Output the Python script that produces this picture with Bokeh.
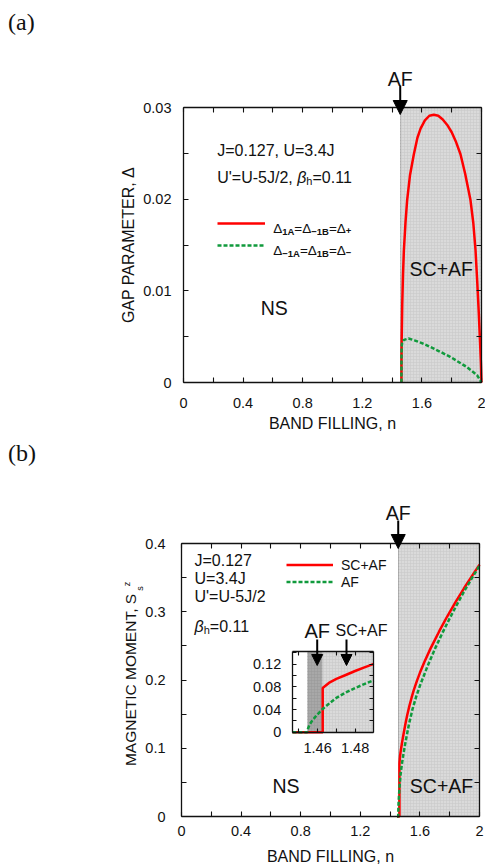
import math
from bokeh.plotting import figure
from bokeh.models import (Range1d, LinearAxis, FixedTicker, Label, Arrow, NormalHead,
                          Legend, LegendItem)
from bokeh.embed import file_html
from bokeh.resources import INLINE

# ---------------- data ----------------
n_af = 1.4545      # onset of the AF state
n_sc = 1.4627      # onset of SC+AF
n_max = 2.0

# panel (a): gap parameters
n_gap_plus = [1.4627, 1.4632, 1.4645, 1.468, 1.473, 1.479, 1.49, 1.501, 1.52, 1.546,
              1.57, 1.591, 1.62, 1.65, 1.68, 1.71, 1.74, 1.77, 1.80, 1.83,
              1.859, 1.89, 1.926, 1.945, 1.96, 1.972, 1.982, 1.99, 1.996, 2.0]
gap_plus = [0.0, 0.0025, 0.0048, 0.0085, 0.0117, 0.0144, 0.0175, 0.0199, 0.0226, 0.0249,
            0.0267, 0.0277, 0.0286, 0.0291, 0.0292, 0.0291, 0.0287, 0.0281, 0.0273, 0.0262,
            0.0249, 0.0228, 0.0199, 0.0174, 0.0144, 0.0108, 0.0075, 0.0045, 0.0022, 0.0]
n_gap_minus = [1.4627, 1.4630, 1.4640, 1.468, 1.475, 1.49, 1.51, 1.55, 1.6, 1.68,
               1.79, 1.9, 1.97, 2.0]
gap_minus = [0.0, 0.0025, 0.0039, 0.0044, 0.0046, 0.0047, 0.0048, 0.0046, 0.0043, 0.0037,
             0.0028, 0.0017, 0.0008, 0.0]

# panel (b): magnetic moment
n_mom_sc = [1.4465, 1.4627, 1.4627, 1.466, 1.47, 1.475, 1.48, 1.485, 1.49, 1.503, 1.515,
            1.53, 1.545, 1.559, 1.58, 1.6, 1.63, 1.671, 1.73, 1.783, 1.84, 1.895, 1.95, 2.0]
mom_sc = [0.0, 0.0, 0.078, 0.087, 0.094, 0.101, 0.108, 0.1145, 0.1205, 0.136, 0.1487,
          0.1625, 0.1748, 0.1852, 0.1988, 0.2105, 0.2265, 0.2460, 0.2715, 0.2930, 0.3145,
          0.3340, 0.3525, 0.369]
n_mom_af = [1.4465, 1.4545, 1.4549, 1.4558, 1.4572, 1.4595, 1.4627, 1.467, 1.47, 1.475,
            1.48, 1.49, 1.505, 1.526, 1.55, 1.575, 1.6, 1.65, 1.705, 1.75, 1.805, 1.85,
            1.9, 1.95, 2.0]
mom_af = [0.0, 0.0, 0.007, 0.014, 0.021, 0.030, 0.041, 0.053, 0.0605, 0.070,
          0.078, 0.092, 0.111, 0.1345, 0.157, 0.1755, 0.1915, 0.2195, 0.2475, 0.2685,
          0.2925, 0.311, 0.331, 0.3495, 0.3675]

# axis ranges and ticks
xr_main = (0.0, 2.0)
yr_gap = (0.0, 0.03)
yr_mom = (0.0, 0.4)
xr_ins = (1.4464, 1.49)
yr_ins = (0.0, 0.143)
x_ticks = [0, 0.4, 0.8, 1.2, 1.6, 2.0]
x_minor = [0.2, 0.6, 1.0, 1.4, 1.8]
x_labels = ["0", "0.4", "0.8", "1.2", "1.6", "2"]
gap_ticks = [0, 0.01, 0.02, 0.03]
gap_minor = [0.005, 0.015, 0.025]
gap_labels = ["0", "0.01", "0.02", "0.03"]
mom_ticks = [0, 0.1, 0.2, 0.3, 0.4]
mom_minor = [0.05, 0.15, 0.25, 0.35]
mom_labels = ["0", "0.1", "0.2", "0.3", "0.4"]
ins_x_ticks = [1.46, 1.48]
ins_x_minor = [1.45, 1.47]
ins_x_labels = ["1.46", "1.48"]
ins_y_ticks = [0, 0.04, 0.08, 0.12]
ins_y_minor = [0.02, 0.06, 0.10, 0.14]
ins_y_labels = ["0", "0.04", "0.08", "0.12"]

# ---------------- style / layout ----------------
W, H = 485, 865
FONT = "Liberation Sans"
SERIF = "Liberation Serif"
RED = "#ff0000"
GREEN = "#109a3c"
INK = "#111111"
LIGHT = "#dadada"
DARK = "#a8a8a8"

# page-pixel placement of each data box: (left, right, bottom, top)
BOX_A = (183, 481, 382, 107)
BOX_B = (181, 479, 816, 543)
BOX_I = (291.7, 373.3, 731.7, 650.7)

# Arial-metric advance widths (per 1000 em)
W_N = {' ': 278, "'": 191, '+': 584, ',': 278, '-': 333, '.': 278, '/': 278, '=': 584,
       'A': 667, 'B': 667, 'C': 722, 'F': 611, 'J': 500, 'S': 667, 'U': 722, 'h': 556,
       's': 500, 'z': 500, '\u0394': 668, '\u03b2': 575, '\u2212': 584}
W_B = {'A': 722, 'B': 722, '+': 584, '\u2212': 584}


def tw(s, size, style):
    tab = W_B if style == "bold" else W_N
    return sum(tab.get(c, W_N.get(c, 556)) for c in s) * size / 1000.0


def mapper(box, xr, yr):
    pl, pr, pb, pt = box
    fx = lambda px: xr[0] + (px - pl) * (xr[1] - xr[0]) / (pr - pl)
    fy = lambda py: yr[0] + (py - pb) * (yr[1] - yr[0]) / (pt - pb)
    return fx, fy


XA, YA = mapper(BOX_A, xr_main, yr_gap)
XB, YB = mapper(BOX_B, xr_main, yr_mom)
XI, YI = mapper(BOX_I, xr_ins, yr_ins)

p = figure(width=W, height=H,
           x_range=Range1d(XA(0), XA(W)), y_range=Range1d(YA(H), YA(0)),
           x_axis_type=None, y_axis_type=None, output_backend="svg",
           toolbar_location=None, min_border=0,
           background_fill_color="white", border_fill_color="white")
p.min_border_left = p.min_border_right = p.min_border_top = p.min_border_bottom = 0
p.outline_line_color = None
p.extra_x_ranges = {"b": Range1d(XB(0), XB(W)), "i": Range1d(XI(0), XI(W))}
p.extra_y_ranges = {"b": Range1d(YB(H), YB(0)), "i": Range1d(YI(H), YI(0))}


def box_axes(rn, xr, yr, xt, xm, xl, yt, ym, yl, xstand, ystand, tick=5, lab="14.5px"):
    xtk = FixedTicker(ticks=xt, minor_ticks=xm)
    ytk = FixedTicker(ticks=yt, minor_ticks=ym)

    def mk(ticker, loc, bounds, ticks, labels=None, stand=0):
        ax = LinearAxis(ticker=ticker, fixed_location=loc, bounds=bounds,
                        x_range_name=rn, y_range_name=rn,
                        major_tick_in=tick, major_tick_out=0, minor_tick_in=tick,
                        minor_tick_out=0, axis_line_color=INK, axis_line_width=1.3,
                        major_tick_line_color=INK, minor_tick_line_color=INK,
                        major_tick_line_width=1.1, minor_tick_line_width=1.1)
        if labels is None:
            ax.major_label_text_font_size = "0px"
            ax.major_label_standoff = 0
            ax.major_label_overrides = {t: "" for t in ticks}
        else:
            ax.major_label_overrides = {t: s for t, s in zip(ticks, labels)}
            ax.major_label_standoff = stand
            ax.major_label_text_font = FONT
            ax.major_label_text_font_size = lab
            ax.major_label_text_color = INK
        ax.axis_label_text_font = FONT
        ax.axis_label_text_font_size = "16px"
        ax.axis_label_text_font_style = "normal"
        ax.axis_label_text_color = INK
        return ax

    bottom = mk(xtk, yr[0], xr, xt, xl, xstand)
    top = mk(xtk, yr[1], xr, xt)
    left = mk(ytk, xr[0], yr, yt, yl, ystand)
    right = mk(ytk, xr[1], yr, yt)
    p.add_layout(bottom, "below")
    p.add_layout(top, "above")
    p.add_layout(left, "left")
    p.add_layout(right, "right")
    return bottom, left


def label(rn, x, y, text, size, align="center", base="middle", style="normal",
          font=FONT, angle=0.0, xo=0, yo=0):
    p.add_layout(Label(x=x, y=y, x_range_name=rn, y_range_name=rn, x_offset=xo, y_offset=yo,
                       text=text, text_font=font, text_font_size=f"{size}px",
                       text_font_style=style, text_align=align, text_baseline=base,
                       text_color=INK, angle=angle))


def rich(rn, x, y, segs):
    off = 0.0
    for text, size, style, dy in segs:
        label(rn, x, y, text, size, align="left", base="alphabetic", style=style, xo=off, yo=dy)
        off += tw(text, size, style)


def shade(rn, right, top):
    p.quad(left=[n_af], right=[n_sc], bottom=[0], top=[top], fill_color=DARK,
           hatch_pattern="+", hatch_color="#989898", hatch_scale=3, hatch_weight=0.5,
           line_color=None, level="underlay", x_range_name=rn, y_range_name=rn)
    p.quad(left=[n_sc], right=[right], bottom=[0], top=[top], fill_color=LIGHT,
           hatch_pattern="+", hatch_color="#c6c6c6", hatch_scale=3, hatch_weight=0.5,
           line_color=None, level="underlay", x_range_name=rn, y_range_name=rn)


def arrow(rn, x, y0, y1, size, width=2):
    p.add_layout(Arrow(end=NormalHead(size=size, fill_color="black", line_color="black",
                                      line_width=1),
                       x_start=x, y_start=y0, x_end=x, y_end=y1,
                       x_range_name=rn, y_range_name=rn,
                       line_color="black", line_width=width))


def within(xs, ys, lo, hi):
    pts = [(x, y) for x, y in zip(xs, ys) if lo <= x <= hi]
    return [a for a, _ in pts], [b for _, b in pts]


# ====================== panel (a) ======================
RA = "default"
bx, ly = box_axes(RA, xr_main, yr_gap, x_ticks, x_minor, x_labels,
                  gap_ticks, gap_minor, gap_labels, 15, 12)
bx.axis_label = "BAND FILLING, n"
bx.axis_label_standoff = 4
ly.axis_label = "GAP PARAMETER, \u0394"
ly.axis_label_standoff = 3

shade(RA, n_max, yr_gap[1])
ra1 = p.line(n_gap_plus, gap_plus, line_color=RED, line_width=2.5)
ra2 = p.line(n_gap_minus, gap_minus, line_color=GREEN, line_width=2.5, line_dash="4 2")

p.add_layout(Legend(items=[LegendItem(label=" ", renderers=[ra1]),
                           LegendItem(label=" ", renderers=[ra2])],
                    location=(217, 610), padding=0, margin=0, spacing=2, glyph_width=48,
                    glyph_height=20, label_height=20, label_standoff=0,
                    border_line_color=None, background_fill_alpha=0,
                    label_text_font_size="13px"))

label(RA, XA(7.5), YA(21), "(a)", 24, align="left", font=SERIF)
label(RA, n_af, YA(78), "AF", 19.5)
arrow(RA, n_af, YA(85), YA(114), 14)
label(RA, XA(216.7), YA(150), "J=0.127, U=3.4J", 16, align="left")
rich(RA, XA(216.7), YA(176.7), [("U'=U-5J/2, ", 16, "normal", 0), ("\u03b2", 16, "italic", 0),
                                ("h", 11, "normal", -4), ("=0.11", 16, "normal", 0)])
rich(RA, XA(272.7), YA(227.6), [("\u0394", 13.5, "normal", 0), ("1A", 9.5, "bold", -3),
                                ("=", 13.5, "normal", 0), ("\u0394", 13.5, "normal", 0),
                                ("\u22121B", 9.5, "bold", -3), ("=", 13.5, "normal", 0),
                                ("\u0394", 13.5, "normal", 0), ("+", 9.5, "bold", -3)])
rich(RA, XA(272.7), YA(249.9), [("\u0394", 13.5, "normal", 0), ("\u22121A", 9.5, "bold", -3),
                                ("=", 13.5, "normal", 0), ("\u0394", 13.5, "normal", 0),
                                ("1B", 9.5, "bold", -3), ("=", 13.5, "normal", 0),
                                ("\u0394", 13.5, "normal", 0), ("\u2212", 9.5, "bold", -3)])
label(RA, XA(273.8), YA(307.5), "NS", 19.5)
label(RA, XA(440.8), YA(268), "SC+AF", 19.5)

# ====================== panel (b) ======================
RB = "b"
bx, ly = box_axes(RB, xr_main, yr_mom, x_ticks, x_minor, x_labels,
                  mom_ticks, mom_minor, mom_labels, 9, 16)
bx.axis_label = "BAND FILLING, n"
bx.axis_label_standoff = 9
ly.axis_label = "MAGNETIC MOMENT, S"
ly.axis_label_standoff = 3
ly.axis_label_text_font_size = "15.5px"

shade(RB, n_max, yr_mom[1])
rb1 = p.line(n_mom_sc, mom_sc, line_color=RED, line_width=2.5,
             x_range_name=RB, y_range_name=RB)
rb2 = p.line(n_mom_af, mom_af, line_color=GREEN, line_width=2.5, line_dash="4 2",
             x_range_name=RB, y_range_name=RB)
p.add_layout(Legend(items=[LegendItem(label="SC+AF", renderers=[rb1]),
                           LegendItem(label="AF", renderers=[rb2])],
                    location=(286, 275), padding=0, margin=0, spacing=0, glyph_width=47,
                    glyph_height=17, label_height=17, label_standoff=8,
                    border_line_color=None, background_fill_alpha=0,
                    label_text_font=FONT, label_text_font_size="14px",
                    label_text_color=INK))

label(RB, XB(7.5), YB(452), "(b)", 24, align="left", font=SERIF)
label(RB, n_af, YB(512.7), "AF", 19.5)
arrow(RB, n_af, YB(520), YB(548), 14)
label(RB, XB(126), YB(583.5), "z", 9, angle=math.pi / 2)
label(RB, XB(139.2), YB(588), "s", 9, angle=math.pi / 2)
label(RB, XB(194), YB(560), "J=0.127", 16, align="left")
label(RB, XB(194), YB(578), "U=3.4J", 16, align="left")
label(RB, XB(194), YB(596), "U'=U-5J/2", 16, align="left")
rich(RB, XB(194), YB(625.5), [("\u03b2", 16, "italic", 0), ("h", 11, "normal", -4),
                              ("=0.11", 16, "normal", 0)])
label(RB, XB(285.5), YB(785.8), "NS", 19.5)
label(RB, XB(441), YB(785.8), "SC+AF", 19.5)

# ====================== inset of (b) ======================
RI = "i"
p.quad(left=[xr_ins[0]], right=[xr_ins[1]], bottom=[yr_ins[0]], top=[yr_ins[1]],
       fill_color="white", line_color=None, level="underlay",
       x_range_name=RI, y_range_name=RI)
shade(RI, xr_ins[1], yr_ins[1])
box_axes(RI, xr_ins, yr_ins, ins_x_ticks, ins_x_minor, ins_x_labels,
         ins_y_ticks, ins_y_minor, ins_y_labels, 11, 11, tick=4)
ix, iy = within(n_mom_sc, mom_sc, *xr_ins)
p.line(ix, iy, line_color=RED, line_width=2.5, x_range_name=RI, y_range_name=RI)
ix, iy = within(n_mom_af, mom_af, *xr_ins)
p.line(ix, iy, line_color=GREEN, line_width=2.5, line_dash="4 2",
       x_range_name=RI, y_range_name=RI)
label(RI, XI(316.7), YI(630), "AF", 20)
label(RI, XI(361), YI(630), "SC+AF", 16)
arrow(RI, XI(316.7), YI(639), YI(665), 11)
arrow(RI, XI(346), YI(639), YI(665), 11)

open("out.html", "w").write(file_html(p, INLINE))
